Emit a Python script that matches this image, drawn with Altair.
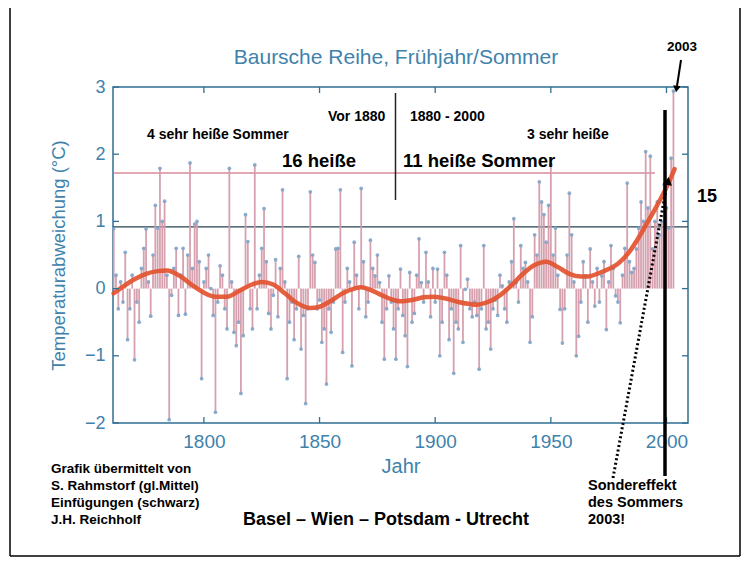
import altair as alt
import pandas as pd

# ---------------- data ----------------
# summer-half-year temperature anomalies, 1761-2003, one list per decade
v1761 = [0.89, 0.2, -0.3, 0.1, -0.2, 0.54, -0.76, -0.3, 0.2, -1.06]
v1771 = [-0.2, -0.5, 0.3, 0.6, 0.89, 0.1, -0.41, 0.5, 1.24, 0.9]
v1781 = [1.79, 1.0, 1.3, 0.2, -1.95, -0.1, 0.3, 0.6, -0.4, 0.2]
v1791 = [0.6, -0.38, 0.5, 1.87, 0.3, 0.96, 1.0, 0.4, -1.34, 0.1]
v1801 = [0.3, 0.5, 0.0, -0.4, -1.84, -0.2, 0.34, 0.2, -0.3, -0.6]
v1811 = [1.79, 0.1, -0.65, -0.85, -0.5, -1.56, -0.7, 1.1, 0.7, -0.3]
v1821 = [-0.6, 1.84, -0.3, 0.2, 0.6, 1.19, 0.4, -0.37, -0.6, -0.1]
v1831 = [0.43, -0.42, 0.3, 1.47, 0.1, -1.34, -0.5, -0.2, -0.76, -0.3]
v1841 = [0.48, -0.9, -0.4, -1.71, -0.3, 1.44, 0.5, 0.39, -0.3, -0.17]
v1851 = [-0.8, -0.6, -1.42, -0.3, -0.65, -0.2, 0.59, 0.6, 1.47, -0.95]
v1861 = [-0.2, 0.3, 0.1, -1.15, 0.69, 0.2, -0.3, 1.49, 0.4, -0.42]
v1871 = [-0.2, 0.72, 0.3, 0.19, 0.5, 0.09, -0.5, -1.05, -0.3, 0.19]
v1881 = [-0.2, -0.6, -1.05, -0.3, 0.29, -0.4, -0.7, -1.16, 0.24, -0.5]
v1891 = [-0.37, 0.2, 0.74, 0.09, -0.2, 0.54, 0.1, -0.42, 0.3, -0.2]
v1901 = [0.29, -1.0, -0.5, 0.54, 0.2, -0.76, -0.3, -1.26, -0.5, -0.6]
v1911 = [0.64, -0.8, -0.01, 0.14, -0.3, -0.42, -0.2, -0.4, -1.2, -0.3]
v1921 = [0.64, -0.6, -0.5, -0.9, -0.3, -0.17, -0.4, 0.2, 0.04, -0.3]
v1931 = [-0.5, 0.1, 0.4, 1.04, 0.09, -0.2, 0.64, 0.3, 0.39, 0.1]
v1941 = [-0.8, -0.42, 0.8, 0.5, 1.59, 1.29, 1.1, 0.69, 1.24, 1.84]
v1951 = [0.5, 0.9, 0.2, -0.31, -0.81, -0.3, 0.5, 1.42, 0.8, 0.1]
v1961 = [-1.0, -0.71, -0.2, 0.4, 0.19, -0.5, 0.59, 0.1, -0.26, 0.3]
v1971 = [-0.2, 0.19, 0.4, -0.61, 0.1, 0.64, 0.3, -0.11, -0.2, -0.51]
v1981 = [0.2, 0.6, 1.57, 0.4, 0.24, 0.3, 0.59, 0.9, 1.29, 1.0]
v1991 = [2.04, 1.2, 1.97, 0.59, 1.0, 1.29, 0.8, 1.0, 1.54, 1.2]
v2001 = [0.9, 1.94, 2.94]

values = (v1761 + v1771 + v1781 + v1791 + v1801 + v1811 + v1821 + v1831 + v1841
          + v1851 + v1861 + v1871 + v1881 + v1891 + v1901 + v1911 + v1921 + v1931
          + v1941 + v1951 + v1961 + v1971 + v1981 + v1991 + v2001)
years = list(range(1761, 1761 + len(values)))

# smoothed mean (red curve)
smooth_years = [1761, 1765, 1770, 1775, 1780, 1784, 1790, 1795, 1800, 1805, 1810, 1815,
                1820, 1825, 1830, 1835, 1840, 1846, 1850, 1855, 1860, 1865, 1868, 1872,
                1877, 1882, 1885, 1890, 1895, 1899, 1905, 1910, 1915, 1918, 1922, 1928,
                1933, 1938, 1943, 1948, 1953, 1958, 1963, 1966, 1970, 1975, 1979, 1984,
                1988, 1992, 1995, 1998, 2001, 2003.5]
smooth_values = [-0.07, 0.03, 0.14, 0.22, 0.26, 0.27, 0.18, 0.05, -0.06, -0.12, -0.12, -0.04,
                 0.05, 0.10, 0.06, -0.07, -0.21, -0.29, -0.27, -0.18, -0.07, 0.0, 0.02, -0.02,
                 -0.10, -0.17, -0.19, -0.17, -0.13, -0.12, -0.15, -0.20, -0.23, -0.24, -0.21, -0.10,
                 0.05, 0.22, 0.35, 0.40, 0.32, 0.22, 0.18, 0.18, 0.22, 0.29, 0.37, 0.55,
                 0.76, 1.0, 1.18, 1.37, 1.58, 1.78]

x_ticks = [1800, 1850, 1900, 1950, 2000]
y_ticks = [-2, -1, 0, 1, 2, 3]
hot_threshold = 1.72
mean_line = 0.92

# ---------------- layout ----------------
W, H = 575, 336
X0, Y0 = 113, 87          # page position of plot origin
AX = "#3f82ab"
FRAME = "#2f6f93"
FONT = "Liberation Sans"

xs = alt.Scale(domain=[1760.7, 2009.3], nice=False, zero=False)
ys = alt.Scale(domain=[-2, 3], nice=False, zero=False)

x_axis = alt.Axis(values=x_ticks, format="d", grid=False, ticks=False, tickSize=0, domain=False,
                  labelFontSize=19, labelColor=AX, labelPadding=9, labelFont=FONT, labelFlush=False,
                  title="Jahr", titleFont=FONT, titleFontSize=20, titleFontWeight="normal",
                  titleColor=AX, titlePadding=5)
y_axis = alt.Axis(values=y_ticks, format="d", grid=False, ticks=False, tickSize=0, domain=False,
                  labelFontSize=18, labelColor=AX, labelPadding=8, labelFont=FONT,
                  title="Temperaturabweichung (°C)", titleFont=FONT, titleFontSize=18.5,
                  titleFontWeight="normal", titleColor=AX, titlePadding=16)

bx = alt.X("Jahr:Q", scale=xs, axis=x_axis)
by = alt.Y("Abw:Q", scale=ys, axis=y_axis)

df = pd.DataFrame({"Jahr": years, "Abw": values})
sdf = pd.DataFrame({"Jahr": smooth_years, "Abw": smooth_values})
one = pd.DataFrame({"_": [0]})

stems = alt.Chart(df).mark_rule(color="#d49cab", strokeWidth=1.8, opacity=0.95).encode(
    x=bx, y=by, y2=alt.datum(0))
dots = alt.Chart(df).mark_circle(color="#7fa3c8", size=14, opacity=0.9).encode(x=bx, y=by)
curve = alt.Chart(sdf).mark_line(color="#e2532f", strokeWidth=4.5, interpolate="monotone",
                                 strokeCap="round", opacity=0.92).encode(x=bx, y=by)

hot = alt.Chart(one).mark_rule(color="#d88a99", strokeWidth=1.5).encode(
    x=alt.XDatum(1761, scale=xs, axis=x_axis), x2=alt.datum(1995),
    y=alt.YDatum(hot_threshold, scale=ys, axis=y_axis))
meanl = alt.Chart(one).mark_rule(color="#24424f", strokeWidth=1.3).encode(
    x=alt.value(0), x2=alt.value(W), y=alt.YDatum(mean_line, scale=ys, axis=y_axis))

xt = pd.DataFrame({"Jahr": x_ticks})
yt = pd.DataFrame({"Abw": y_ticks})
tick_b = alt.Chart(xt).mark_rule(color=FRAME, strokeWidth=1.3).encode(
    x=bx, y=alt.value(H), y2=alt.value(H - 6))
tick_t = alt.Chart(xt).mark_rule(color=FRAME, strokeWidth=1.3).encode(
    x=bx, y=alt.value(0), y2=alt.value(6))
tick_l = alt.Chart(yt).mark_rule(color=FRAME, strokeWidth=1.3).encode(
    y=by, x=alt.value(0), x2=alt.value(6))
tick_r = alt.Chart(yt).mark_rule(color=FRAME, strokeWidth=1.3).encode(
    y=by, x=alt.value(W), x2=alt.value(W - 6))


def label(s, px, py, size, weight="bold", color="black", align="left"):
    return alt.Chart(one).mark_text(text=s, fontSize=size, fontWeight=weight, color=color,
                                    align=align, baseline="middle", font=FONT).encode(
        x=alt.value(px - X0), y=alt.value(py - Y0))


def seg(x1, y1, x2, y2, width, color="black", dash=None):
    kw = dict(strokeWidth=width, color=color)
    if dash:
        kw["strokeDash"] = dash
    return alt.Chart(one).mark_rule(**kw).encode(
        x=alt.value(x1 - X0), y=alt.value(y1 - Y0), x2=alt.value(x2 - X0), y2=alt.value(y2 - Y0))


def head(px, py, shape, angle, size):
    return alt.Chart(one).mark_point(shape=shape, angle=angle, filled=True, color="black",
                                     size=size, opacity=1).encode(
        x=alt.value(px - X0), y=alt.value(py - Y0))


# picture frame: left, right and bottom edges
frame = [
    seg(10, 8, 10, 556, 1.5),
    seg(740, 8, 740, 556, 1.5),
    seg(10, 556, 740, 556, 1.5),
]

texts = [
    label("Baursche Reihe, Frühjahr/Sommer", 396, 58, 21, "normal", AX, "center"),
    label("2003", 682, 47, 13.5, align="center"),
    label("Vor 1880", 328, 117, 14),
    label("1880 - 2000", 410, 117, 14),
    label("4 sehr heiße Sommer", 147, 135, 14),
    label("3 sehr heiße", 527, 135, 14),
    label("16 heiße", 282, 161, 18.5),
    label("11 heiße Sommer", 403, 161, 18.5),
    label("15", 697, 197, 18),
    label("Grafik übermittelt von", 51, 469, 13.5),
    label("S. Rahmstorf (gl.Mittel)", 51, 486, 13.5),
    label("Einfügungen (schwarz)", 51, 503, 13.5),
    label("J.H. Reichholf", 51, 520, 13.5),
    label("Basel – Wien – Potsdam - Utrecht", 243, 520, 18),
    label("Sondereffekt", 588, 486, 14.5),
    label("des Sommers", 588, 503, 14.5),
    label("2003!", 588, 520, 14.5),
]

marks = [
    seg(395.5, 93, 395.5, 200, 1.5, "#222222"),
    seg(665, 110, 665, 476, 3.5),
    seg(613, 478, 666, 190, 3, dash=[2, 2.5]),
    head(668, 181, "triangle-up", 10, 90),
    seg(681, 60, 677, 86, 2),
    head(676.5, 89, "triangle-down", 8, 60),
]

chart = alt.layer(
    hot, meanl, stems, dots, curve, tick_b, tick_t, tick_l, tick_r, *frame, *marks, *texts
).properties(
    width=W, height=H,
    padding={"left": X0 - 8, "top": Y0 - 8, "right": 750 - 8 - X0 - W, "bottom": 567 - 8 - Y0 - H},
    autosize=alt.AutoSizeParams(type="none"),
    background="white",
).configure_view(stroke=FRAME, strokeWidth=1.5)

chart.save("out.html", embed_options={"renderer": "svg", "actions": False})
